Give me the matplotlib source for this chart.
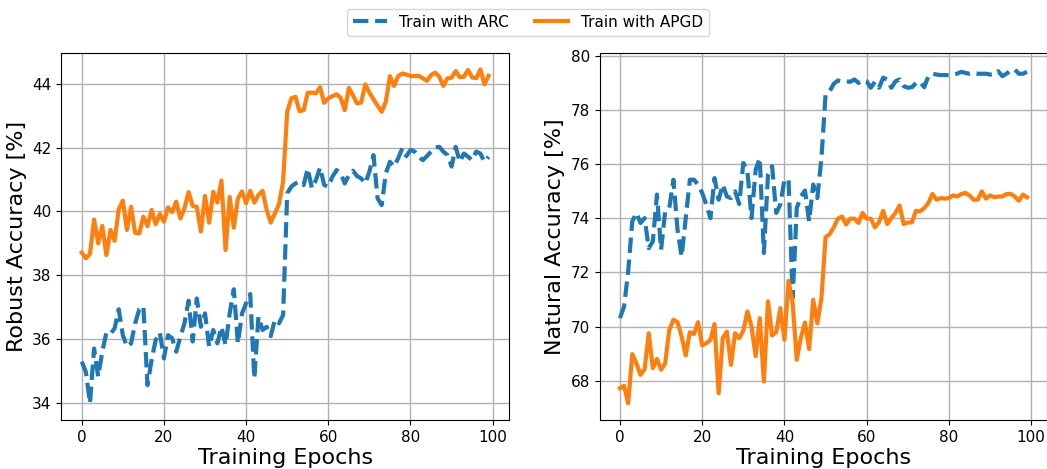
import numpy as np
import matplotlib
matplotlib.use("Agg")
import matplotlib.pyplot as plt

epochs = np.arange(100)

# robust accuracy [%]
robust_arc = [
    35.29, 34.97, 33.98, 35.70, 34.82, 35.60, 36.20, 36.16, 36.33, 36.93,
    36.12, 35.76, 35.86, 36.49, 36.93, 37.03, 34.55, 35.34, 35.97, 36.20,
    35.39, 36.12, 36.02, 35.60, 36.07, 36.49, 37.20, 35.92, 37.27, 36.38,
    36.80, 35.76, 36.28, 35.86, 36.38, 35.81, 36.80, 37.56, 35.86, 36.80,
    37.12, 37.41, 34.76, 36.70, 36.28, 36.38, 36.09, 36.61, 36.49, 36.75,
    40.57, 40.78, 40.88, 40.94, 40.83, 41.35, 40.73, 40.99, 41.38, 40.83,
    40.78, 41.09, 41.30, 41.20, 40.88, 41.14, 41.28, 41.11, 41.04, 40.88,
    41.25, 41.77, 40.41, 40.20, 41.20, 41.56, 41.41, 41.67, 41.98, 41.74,
    41.93, 41.88, 41.72, 41.61, 41.74, 41.88, 42.01, 42.03, 41.88, 41.77,
    41.41, 42.03, 41.56, 41.82, 41.72, 41.61, 41.88, 41.82, 41.56, 41.72,
]
robust_apgd = [
    38.71, 38.53, 38.67, 39.75, 39.00, 39.55, 38.63, 39.42, 39.08, 40.07,
    40.34, 39.42, 40.15, 39.33, 39.31, 39.84, 39.54, 40.05, 39.60, 39.92,
    39.68, 40.13, 39.98, 40.31, 39.78, 40.10, 40.61, 40.17, 40.15, 39.37,
    40.49, 39.65, 40.62, 40.28, 40.97, 38.79, 40.46, 39.49, 40.41, 40.63,
    40.26, 40.65, 40.28, 40.52, 40.65, 40.05, 39.65, 39.94, 40.23, 40.94,
    43.13, 43.55, 43.60, 43.15, 43.18, 43.73, 43.73, 43.71, 43.90, 43.41,
    43.55, 43.62, 43.68, 43.57, 43.18, 43.88, 43.65, 43.39, 43.42, 43.99,
    43.73, 43.52, 43.32, 43.13, 43.45, 44.25, 43.94, 44.25, 44.33, 44.30,
    44.25, 44.25, 44.26, 44.18, 44.10, 44.28, 44.36, 44.23, 43.94, 44.18,
    44.20, 44.41, 44.21, 44.23, 44.44, 44.21, 44.18, 44.46, 43.99, 44.26,
]

# natural accuracy [%]
natural_arc = [
    70.31, 70.74, 72.04, 73.89, 74.20, 73.83, 74.01, 72.90, 73.15, 74.88,
    72.84, 74.26, 74.38, 75.43, 73.58, 72.59, 74.01, 75.43, 75.43, 75.25,
    74.94, 74.51, 74.01, 75.49, 74.69, 75.25, 74.81, 74.75, 75.00, 74.53,
    76.05, 75.74, 74.01, 75.80, 76.23, 72.72, 75.62, 75.93, 74.20, 74.51,
    75.43, 75.43, 71.05, 74.38, 74.81, 75.03, 73.89, 75.25, 74.75, 76.23,
    78.58, 78.70, 78.98, 79.10, 79.07, 79.07, 79.05, 79.14, 79.01, 79.10,
    79.07, 78.83, 79.05, 78.83, 79.20, 79.14, 78.83, 79.07, 79.14, 78.89,
    78.83, 78.85, 79.01, 79.05, 78.85, 79.26, 79.35, 79.32, 79.30, 79.30,
    79.30, 79.32, 79.35, 79.42, 79.38, 79.35, 79.38, 79.35, 79.35, 79.35,
    79.32, 79.32, 79.44, 79.26, 79.35, 79.47, 79.51, 79.35, 79.35, 79.42,
]
natural_apgd = [
    67.72, 67.81, 67.16, 68.98, 68.64, 68.21, 68.43, 69.75, 68.46, 68.80,
    68.40, 68.64, 69.88, 70.25, 70.16, 69.63, 68.93, 69.79, 69.72, 70.16,
    69.30, 69.38, 69.51, 70.09, 67.53, 69.57, 69.81, 68.58, 69.75, 69.57,
    69.84, 70.56, 70.00, 68.90, 70.31, 67.96, 70.93, 69.67, 69.79, 70.68,
    69.51, 71.69, 70.86, 68.77, 69.59, 70.15, 69.17, 70.99, 70.12, 71.05,
    73.30, 73.42, 73.67, 73.99, 74.07, 73.77, 73.99, 73.99, 73.83, 74.20,
    73.99, 73.99, 73.67, 73.86, 74.28, 73.79, 74.01, 74.20, 74.48, 73.79,
    73.85, 73.85, 74.28, 74.26, 74.38, 74.57, 74.90, 74.69, 74.75, 74.73,
    74.75, 74.85, 74.81, 74.90, 74.94, 74.85, 74.69, 74.69, 75.00, 74.73,
    74.85, 74.78, 74.81, 74.81, 74.90, 74.91, 74.81, 74.65, 74.88, 74.78,
]

W, H = 1047, 469
fig = plt.figure(figsize=(W / 100, H / 100), dpi=100)
ax1 = fig.add_axes([61.4 / W, 49 / H, 447.5 / W, 367.3 / H])
ax2 = fig.add_axes([599.6 / W, 49 / H, 447.8 / W, 367.3 / H])

panels = [
    (ax1, robust_arc, robust_apgd, "Robust Accuracy [%]"),
    (ax2, natural_arc, natural_apgd, "Natural Accuracy [%]"),
]
for ax, arc, apgd, ylabel in panels:
    ax.plot(epochs, arc, "--", color="#1f77b4", lw=3, label="Train with ARC")
    ax.plot(epochs, apgd, "-", color="#ff7f0e", lw=3, label="Train with APGD")
    ax.grid(True, color="#b0b0b0", lw=1)
    ax.set_axisbelow(True)
    ax.set_xlabel("Training Epochs", fontsize=16, labelpad=2)
    ax.set_ylabel(ylabel, fontsize=16, labelpad=4)
    ax.tick_params(labelsize=11)

handles, labels = ax1.get_legend_handles_labels()
fig.legend(handles, labels, loc="upper center", ncol=2, fontsize=11,
           bbox_to_anchor=(528 / W, 1 - 1 / H), handlelength=2.2,
           columnspacing=1.7)

fig.savefig("out.png", dpi=100)
